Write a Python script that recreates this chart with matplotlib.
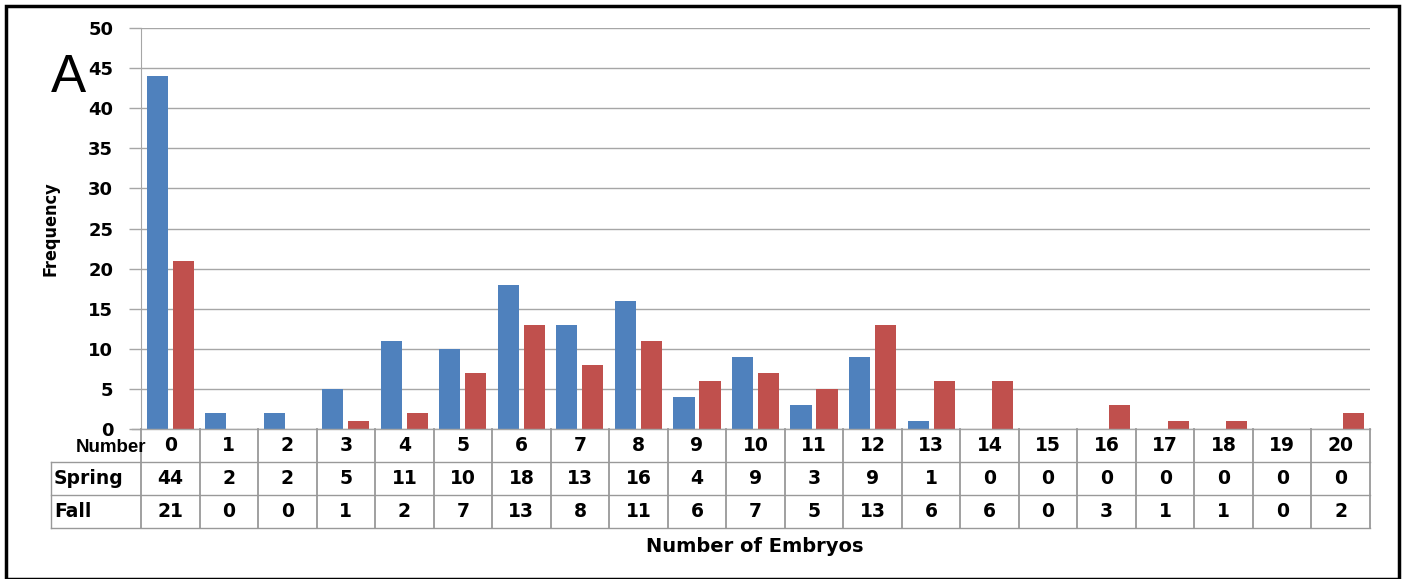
import numpy as np
import matplotlib.pyplot as plt
from matplotlib.patches import Rectangle

# data
embryos = list(range(21))
spring = [44, 2, 2, 5, 11, 10, 18, 13, 16, 4, 9, 3, 9, 1, 0, 0, 0, 0, 0, 0, 0]
fall = [21, 0, 0, 1, 2, 7, 13, 8, 11, 6, 7, 5, 13, 6, 6, 0, 3, 1, 1, 0, 2]
row_labels = ["Spring", "Fall"]

W, H = 1407, 579
fig = plt.figure(figsize=(W / 100, H / 100), dpi=100)

def px(x0, y0, x1, y1):
    return [x0 / W, 1 - y1 / H, (x1 - x0) / W, (y1 - y0) / H]

grid_c = "#a6a6a6"
blue = "#4f81bd"
red = "#c0504d"

ax = fig.add_axes(px(141, 28, 1370, 429))
x = np.arange(len(embryos))
ax.bar(x - 0.222, spring, width=0.36, color=blue, zorder=3)
ax.bar(x + 0.222, fall, width=0.36, color=red, zorder=3)
ax.set_xlim(-0.5, 20.5)
ax.set_ylim(0, 50)
ax.set_yticks(range(0, 51, 5))
ax.yaxis.grid(True, color=grid_c, lw=1, zorder=0)
ax.set_xticks([])
for s in ["top", "right", "bottom"]:
    ax.spines[s].set_visible(False)
ax.spines["left"].set_color(grid_c)
ax.tick_params(axis="y", length=9, color=grid_c, width=1, pad=11)
for lab in ax.get_yticklabels():
    lab.set_fontweight("bold")
    lab.set_fontsize(13)
ax.set_ylabel("Frequency", fontweight="bold", fontsize=13, fontstretch="condensed")
ax.yaxis.set_label_coords(-0.066, 0.5)

# table below the axes
tab = fig.add_axes(px(141, 429, 1370, 528))
tab.set_xlim(-0.5, 20.5)
tab.set_ylim(3, 0)
tab.axis("off")
left = -0.5 - 90 / 58.52
lc = "#999999"
tab.plot([-0.5 - 9 / 58.52, 20.5], [0, 0], color=grid_c, lw=1, clip_on=False)
for yy in [1, 2, 3]:
    tab.plot([left, 20.5], [yy, yy], color=lc, lw=1, clip_on=False)
tab.plot([left, left], [1, 3], color=lc, lw=1, clip_on=False)
for b in np.arange(-0.5, 21, 1):
    tab.plot([b, b], [0, 3], color=lc, lw=1.3, clip_on=False)

font = dict(fontweight="bold", fontsize=13.5)
tab.text(-0.5 - 30 / 58.52, 0.55, "Number", ha="center", va="center",
         fontweight="bold", fontsize=13.5, clip_on=False,
         family=["Liberation Sans", "DejaVu Sans"])
for i, lbl in enumerate(row_labels):
    tab.text(left + 3 / 58.52, 1.5 + i, lbl, ha="left", va="center",
             clip_on=False, **font)
for i in range(len(embryos)):
    tab.text(x[i], 0.5, str(embryos[i]), ha="center", va="center", **font)
    tab.text(x[i], 1.5, str(spring[i]), ha="center", va="center", **font)
    tab.text(x[i], 2.5, str(fall[i]), ha="center", va="center", **font)

fig.text(755 / W, 1 - 547 / H, "Number of Embryos", ha="center", va="center",
         fontweight="bold", fontsize=14)
fig.text(68 / W, 1 - 78 / H, "A", ha="center", va="center", fontsize=38,
         family=["Liberation Sans", "DejaVu Sans"])

fig.patches.append(Rectangle((6 / W, 0), 1393 / W, 1 - 6 / H, transform=fig.transFigure,
                             fill=False, edgecolor="black", lw=2.5))

fig.savefig("out.png", dpi=100)
